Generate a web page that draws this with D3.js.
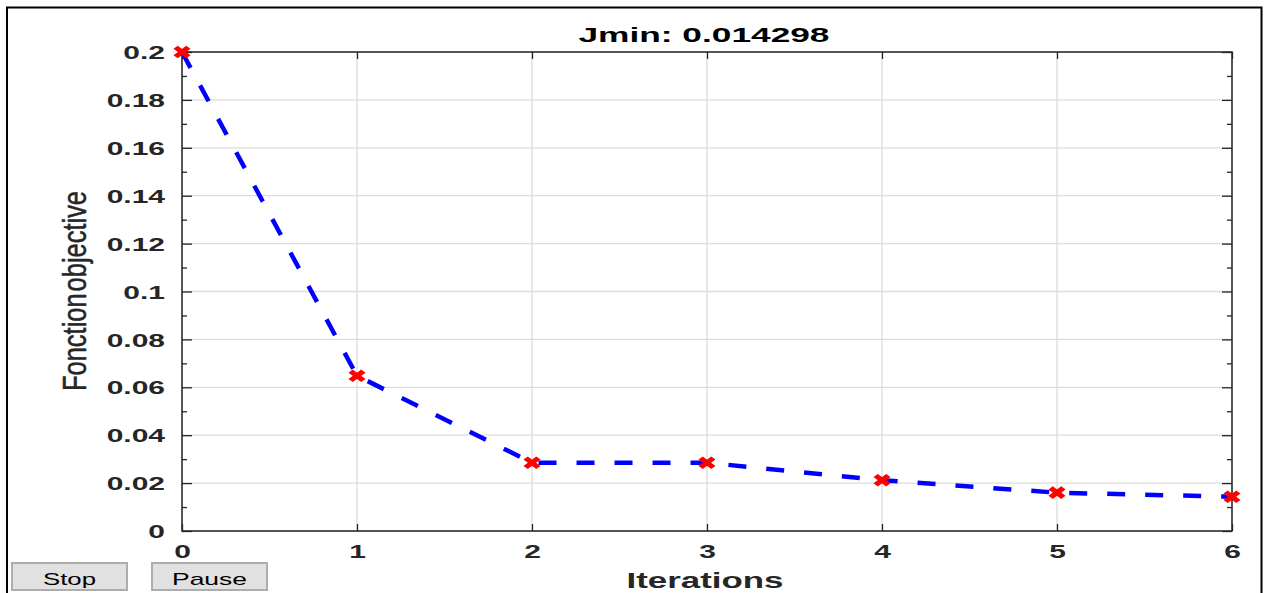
<!DOCTYPE html>
<html>
<head>
<meta charset="utf-8">
<script src="https://cdn.jsdelivr.net/npm/d3@7"></script>
<style>
  body { margin: 0; background: #fff; }
  svg { display: block; font-family: "Liberation Sans", Arial, sans-serif; }
</style>
</head>
<body>
<svg id="chart"></svg>
<script>
// data
const iterations = [0, 1, 2, 3, 4, 5, 6];
const jValues = [0.2, 0.0648, 0.0285, 0.0285, 0.0212, 0.0160, 0.014298];
const yTicks = [0, 0.02, 0.04, 0.06, 0.08, 0.1, 0.12, 0.14, 0.16, 0.18, 0.2];
const yTickLabels = ['0', '0.02', '0.04', '0.06', '0.08', '0.1', '0.12', '0.14', '0.16', '0.18', '0.2'];
const yMinorTicks = [0.01, 0.03, 0.05, 0.07, 0.09, 0.11, 0.13, 0.15, 0.17, 0.19];
const titleText = 'Jmin: 0.014298';
const xLabelText = 'Iterations';
const yLabelText = 'Fonction objective';
const buttons = ['Stop', 'Pause'];

const svg = d3.select('#chart')
  .attr('width', 1267)
  .attr('height', 593);

const plot = { left: 182, right: 1232, top: 52, bottom: 531 };
const stretch = 1.62; // the figure is wider than it is tall, text is stretched

const x = d3.scaleLinear().domain([0, 6]).range([plot.left, plot.right]);
const y = d3.scaleLinear().domain([0, 0.2]).range([plot.bottom, plot.top]);

// figure frame
svg.append('rect')
  .attr('x', 7).attr('y', 7.5)
  .attr('width', 1254.5).attr('height', 700)
  .attr('fill', 'none')
  .attr('stroke', '#000')
  .attr('stroke-width', 2);

// grid
svg.append('g').selectAll('line')
  .data(iterations)
  .enter().append('line')
  .attr('x1', d => x(d)).attr('x2', d => x(d))
  .attr('y1', plot.top).attr('y2', plot.bottom)
  .attr('stroke', '#dcdcdc').attr('stroke-width', 1.3);

svg.append('g').selectAll('line')
  .data(yTicks)
  .enter().append('line')
  .attr('x1', plot.left).attr('x2', plot.right)
  .attr('y1', d => y(d)).attr('y2', d => y(d))
  .attr('stroke', '#dcdcdc').attr('stroke-width', 1.3);

// stretch tick labels horizontally
function widen(sel) {
  sel.attr('textLength', function () { return this.getComputedTextLength() * stretch; })
    .attr('lengthAdjust', 'spacingAndGlyphs');
}

const axisColor = '#262626';

// bottom axis
const gx = svg.append('g')
  .attr('transform', `translate(0,${plot.bottom})`)
  .call(d3.axisBottom(x).tickValues(iterations).tickFormat(d3.format('d')).tickSize(-7).tickSizeOuter(0));
gx.select('.domain').remove();
gx.selectAll('text')
  .attr('y', 20).attr('dy', '0.36em')
  .style('font-size', '18.5px').style('font-weight', 'bold').attr('fill', axisColor)
  .call(widen);

// top axis, ticks only
const gxt = svg.append('g')
  .attr('transform', `translate(0,${plot.top})`)
  .call(d3.axisTop(x).tickValues(iterations).tickFormat('').tickSize(-7).tickSizeOuter(0));
gxt.select('.domain').remove();

// left axis
const gy = svg.append('g')
  .attr('transform', `translate(${plot.left},0)`)
  .call(d3.axisLeft(y).tickValues(yTicks).tickFormat((d, i) => yTickLabels[i]).tickSize(-10).tickSizeOuter(0));
gy.select('.domain').remove();
gy.selectAll('text')
  .attr('x', -17).attr('dy', '0.36em')
  .style('font-size', '18.5px').style('font-weight', 'bold').attr('fill', axisColor)
  .call(widen);

const gyMinor = svg.append('g')
  .attr('transform', `translate(${plot.left},0)`)
  .call(d3.axisLeft(y).tickValues(yMinorTicks).tickFormat('').tickSize(-5).tickSizeOuter(0));
gyMinor.select('.domain').remove();

// right axis, ticks only
const gyr = svg.append('g')
  .attr('transform', `translate(${plot.right},0)`)
  .call(d3.axisRight(y).tickValues(yTicks).tickFormat('').tickSize(-10).tickSizeOuter(0));
gyr.select('.domain').remove();

const gyrMinor = svg.append('g')
  .attr('transform', `translate(${plot.right},0)`)
  .call(d3.axisRight(y).tickValues(yMinorTicks).tickFormat('').tickSize(-5).tickSizeOuter(0));
gyrMinor.select('.domain').remove();

svg.selectAll('.tick line').attr('stroke', axisColor).attr('stroke-width', 1.3);

// axes box
svg.append('rect')
  .attr('x', plot.left).attr('y', plot.top)
  .attr('width', plot.right - plot.left).attr('height', plot.bottom - plot.top)
  .attr('fill', 'none')
  .attr('stroke', axisColor)
  .attr('stroke-width', 1.5);

// dashed line
const line = d3.line()
  .x((d, i) => x(iterations[i]))
  .y(d => y(d));

svg.append('path')
  .datum(jValues)
  .attr('d', line)
  .attr('fill', 'none')
  .attr('stroke', '#0000ff')
  .attr('stroke-width', 4.5)
  .attr('stroke-dasharray', '18,20');

// red x markers
svg.append('g').selectAll('path')
  .data(jValues)
  .enter().append('path')
  .attr('d', d3.symbol(d3.symbolX, 60))
  .attr('transform', (d, i) => `translate(${x(iterations[i])},${y(d)}) scale(1.35,1)`)
  .attr('fill', 'none')
  .attr('stroke', '#ff0000')
  .attr('stroke-width', 4.5);

// title
svg.append('text')
  .attr('x', 704).attr('y', 42)
  .attr('text-anchor', 'middle')
  .style('font-size', '21px').style('font-weight', 'bold')
  .attr('fill', '#000')
  .attr('textLength', 251).attr('lengthAdjust', 'spacingAndGlyphs')
  .text(titleText);

// x label
svg.append('text')
  .attr('x', 705).attr('y', 588)
  .attr('text-anchor', 'middle')
  .style('font-size', '22px').style('font-weight', 'bold')
  .attr('fill', axisColor)
  .attr('textLength', 157).attr('lengthAdjust', 'spacingAndGlyphs')
  .text(xLabelText);

// y label
svg.append('text')
  .attr('transform', `translate(86,291) scale(${stretch},1) rotate(-90)`)
  .attr('text-anchor', 'middle')
  .style('font-size', '20px')
  .style('word-spacing', '-4px')
  .attr('fill', axisColor)
  .attr('stroke', axisColor).attr('stroke-width', 0.3)
  .attr('textLength', 200).attr('lengthAdjust', 'spacingAndGlyphs')
  .text(yLabelText);

// buttons under the axes
const btn = svg.append('g').selectAll('g')
  .data(buttons)
  .enter().append('g')
  .attr('transform', (d, i) => `translate(${12 + i * 140},563)`);

btn.append('rect')
  .attr('width', 115).attr('height', 27)
  .attr('fill', '#e1e1e1')
  .attr('stroke', '#adadad')
  .attr('stroke-width', 2);

btn.append('text')
  .attr('x', 57.5).attr('y', 22)
  .attr('text-anchor', 'middle')
  .style('font-size', '17px')
  .attr('fill', '#000')
  .attr('textLength', (d, i) => i === 0 ? 53 : 75)
  .attr('lengthAdjust', 'spacingAndGlyphs')
  .text(d => d);
</script>
</body>
</html>
